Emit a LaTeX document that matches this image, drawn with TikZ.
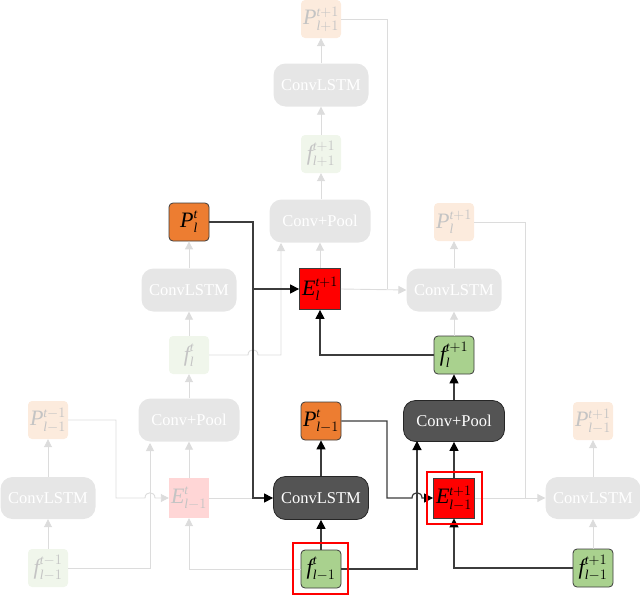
\documentclass[tikz,border=0pt]{standalone}
\usepackage{amsmath}
\usepackage{fontspec}
\setmainfont{Liberation Serif}
\usetikzlibrary{arrows.meta}
\DeclareMathSizes{22}{22}{13.5}{10}

\definecolor{fgray}{HTML}{E6E6E6}
\definecolor{fline}{HTML}{DCDCDC}
\definecolor{ftext}{HTML}{C4C4C4}
\definecolor{forange}{HTML}{FCEBDD}
\definecolor{fgreen}{HTML}{F0F6EB}
\definecolor{fpink}{HTML}{FFD6D6}
\definecolor{dbox}{HTML}{545454}
\definecolor{dline}{HTML}{3C3C3C}
\definecolor{orng}{HTML}{ED7D31}
\definecolor{grn}{HTML}{A9D18E}

\newcommand\lab[3]{$\textit{#1}^{#2}_{#3}$}

\tikzset{
  sm/.style={minimum width=40pt, minimum height=38pt, inner sep=0pt, rounded corners=4pt, font=\fontsize{22}{24}\selectfont},
  sq/.style={minimum width=41pt, minimum height=41pt, inner sep=0pt, font=\fontsize{22}{24}\selectfont},
  big/.style={minimum width=95pt, minimum height=43pt, inner sep=0pt, rounded corners=12pt, font=\fontsize{16.5}{19}\selectfont},
  wide/.style={big, minimum width=101pt},
  fbig/.style={fill=fgray, text=white},
  dbig/.style={fill=dbox, draw=black!85, line width=0.8pt, text=white},
  forg/.style={sm, fill=forange, text=ftext},
  fgrn/.style={sm, fill=fgreen, text=ftext},
  aorg/.style={sm, fill=orng, draw=dline, line width=0.8pt},
  agrn/.style={sm, fill=grn, draw=dline, line width=0.8pt},
  ared/.style={sq, fill=red, draw=dline, line width=0.8pt},
  fpnk/.style={sq, minimum width=40pt, minimum height=40pt, fill=fpink, text=ftext},
  hl/.style={draw=red, line width=1.8pt, inner sep=0pt},
  fl/.style={draw=fline, line width=0.9pt},
  far/.style={fl, -{Triangle[length=8pt,width=8pt,color=fline]}},
  dl/.style={draw=dline, line width=1.2pt},
  dar/.style={dl, -{Triangle[length=9pt,width=9pt,color=black]}},
}

\begin{document}
\begin{tikzpicture}[x=1pt, y=-1pt]
\useasboundingbox (0,0) rectangle (640,597);

% ---- nodes ----
\node[forg] (Ptop) at (321,19) {\lab{P}{\textit{t}+1}{\textit{l}+1}};
\node[big, fbig] (CLt) at (321,85) {ConvLSTM};
\node[fgrn] (ftop) at (321,154) {\lab{f}{\textit{t}+1}{\textit{l}+1}};
\node[wide, fbig] (CPm) at (320,221) {Conv+Pool};
\node[aorg] (Pl) at (189,222) {\lab{P}{\textit{t}}{\textit{l}}};
\node[big, fbig] (CLl) at (189,290) {ConvLSTM};
\node[ared] (El) at (320,289) {\lab{E}{\textit{t}+1}{\textit{l}}};
\node[forg] (Plr) at (454,222) {\lab{P}{\textit{t}+1}{\textit{l}}};
\node[big, fbig] (CLr) at (454,290) {ConvLSTM};
\node[fgrn] (fl) at (189,355) {\lab{f}{\textit{t}}{\textit{l}}};
\node[agrn] (flr) at (454,355) {\lab{f}{\textit{t}+1}{\textit{l}}};
\node[wide, fbig] (CPl) at (189,420) {Conv+Pool};
\node[forg] (Pa) at (48,420) {\lab{P}{\textit{t}-1}{\textit{l}-1}};
\node[aorg] (Pb) at (321,421) {\lab{P}{\textit{t}}{\textit{l}-1}};
\node[wide, dbig, minimum height=41pt] (CPr) at (454,421) {Conv+Pool};
\node[forg] (Pc) at (593,421) {\lab{P}{\textit{t}+1}{\textit{l}-1}};
\node[big, fbig, minimum height=42pt] (CLa) at (48,498) {ConvLSTM};
\node[fpnk] (Ea) at (189,498) {\lab{E}{\textit{t}}{\textit{l}-1}};
\node[big, dbig] (CLb) at (321,498) {ConvLSTM};
\node[ared, minimum height=40pt] (Eb) at (454,498) {\lab{E}{\textit{t}+1}{\textit{l}-1}};
\node[big, fbig, minimum height=42pt] (CLc) at (593,498) {ConvLSTM};
\node[fgrn] (fa) at (48,568) {\lab{f}{\textit{t}-1}{\textit{l}-1}};
\node[agrn] (fb) at (321,569) {\lab{f}{\textit{t}}{\textit{l}-1}};
\node[agrn] (fc) at (593,568) {\lab{f}{\textit{t}+1}{\textit{l}-1}};

\coordinate (j1) at (253,289);
\coordinate (j2) at (387,289);
\coordinate (j3) at (525,498);
\coordinate (j4) at (253,498);

% ---- faint connectors ----
\draw[far] (fa) -- (CLa);
\draw[far] (CLa) -- (Pa);
\draw[far] (fa.east) -| (150,443);
\draw[far] (Pa.east) -| (116,460) |- (145,498) .. controls (145,491) and (155,491) .. (155,498) -- (Ea.west);
\draw[far] (fb.west) -| (Ea.south);
\draw[far] (Ea) -- (CPl.south -| Ea);
\draw[fl] (Ea.east) -- (j4);
\draw[far] (CPl) -- (fl);
\draw[far] (fl) -- (CLl);
\draw[far] (CLl) -- (Pl);
\draw[far] (fl.east) -- (248,355) .. controls (248,348) and (258,348) .. (258,355) -| (281,243);
\draw[far] (El) -- (CPm.south -| El);
\draw[far] (CPm.north -| ftop) -- (ftop);
\draw[far] (ftop) -- (CLt);
\draw[far] (CLt) -- (Ptop);
\draw[fl] (Ptop.east) -| (j2);
\draw[far] (El.east) -- (CLr.west);
\draw[far] (flr) -- (CLr);
\draw[far] (CLr) -- (Plr);
\draw[far] (Plr.east) -| (j3) -- (CLc.west);
\draw[fl] (Eb.east) -- (j3);
\draw[far] (fc) -- (CLc);
\draw[far] (CLc) -- (Pc);

% ---- dark connectors ----
\draw[dar] (Pl.east) -| (j4) -- (CLb.west);
\draw[dar] (j1) -- (El.west);
\draw[dar] (flr.west) -| (El.south);
\draw[dar] (CPr.north -| flr) -- (flr);
\draw[dar] (Eb) -- (CPr.south -| Eb);
\draw[dar] (fb.east) -| (417,441);
\draw[dar] (Pb.east) -| (387,460) |- (412,498) .. controls (412,491) and (422,491) .. (422,498) -- (Eb.west);
\draw[dar] (fc.west) -| (Eb.south);
\draw[dar] (fb) -- (CLb);
\draw[dar] (CLb) -- (Pb);

% ---- highlight frames ----
\node[hl, minimum width=55pt, minimum height=51pt] (hb) at (320.5,568.5) {};
\node[hl, minimum width=55pt, minimum height=52pt] (hc) at (454.5,498) {};
\end{tikzpicture}
\end{document}
